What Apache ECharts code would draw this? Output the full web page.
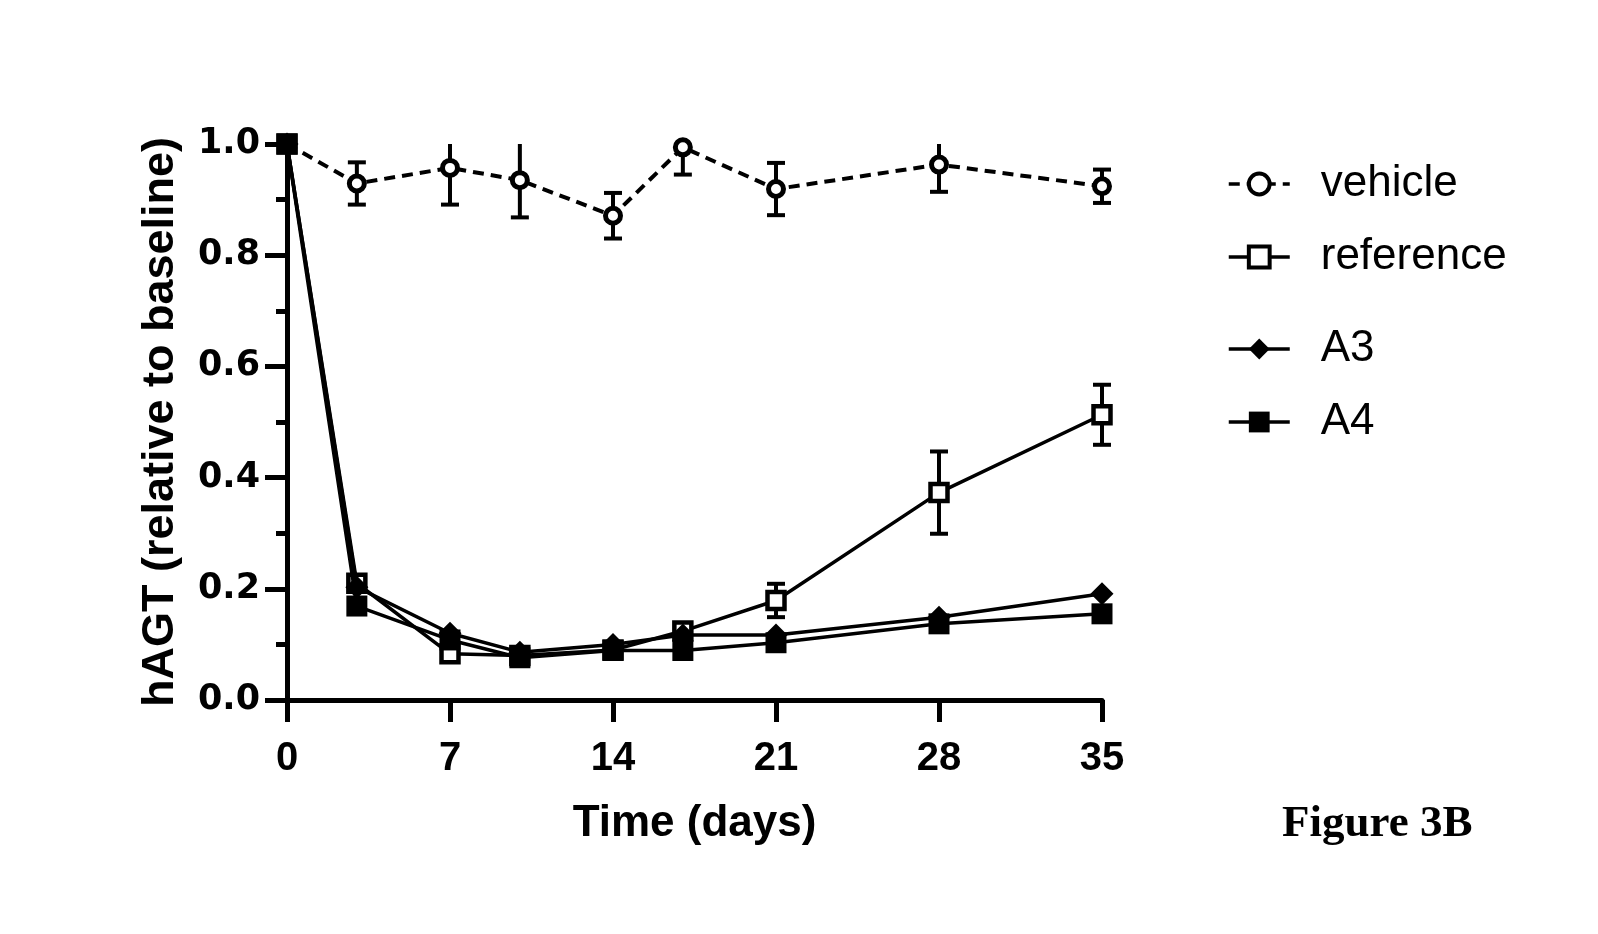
<!DOCTYPE html>
<html>
<head>
<meta charset="utf-8">
<title>Figure 3B</title>
<script src="https://cdn.jsdelivr.net/npm/echarts@6/dist/echarts.min.js"></script>
<style>
    html, body { margin: 0; padding: 0; background: #fff; }
    #chart { width: 1598px; height: 934px; }
</style>
</head>
<body>
<div id="chart"></div>
<script>
// 时间点 (days)
var days = [0, 3, 7, 10, 14, 17, 21, 28, 35];
// 各组均值
var vehicle = [1.0, 0.929, 0.957, 0.935, 0.871, 0.994, 0.919, 0.963, 0.924];
var reference = [1.0, 0.210, 0.083, 0.080, 0.090, 0.124, 0.179, 0.373, 0.513];
var a3 = [1.0, 0.203, 0.120, 0.086, 0.100, 0.117, 0.117, 0.149, 0.191];
var a4 = [1.0, 0.169, 0.108, 0.076, 0.089, 0.089, 0.103, 0.137, 0.155];
// 误差
var vehicleErr = [0, 0.038, 0.066, 0.067, 0.041, 0.049, 0.047, 0.049, 0.030];
var referenceErr = [0, 0.012, 0.006, 0.005, 0.005, 0.008, 0.030, 0.074, 0.054];
// 刻度
var xTicks = [0, 7, 14, 21, 28, 35];
var yMax = 1.0;

function pairs(vals) {
    return days.map(function (d, i) { return [d, vals[i]]; });
}
function errData(vals, errs) {
    return days.map(function (d, i) { return [d, vals[i], errs[i]]; });
}

// 误差线 (超过 y 轴最大值时裁掉上端)
function renderErr(params, api) {
    var x = api.value(0), y = api.value(1), e = api.value(2);
    if (!e) return null;
    var hiVal = y + e, clipped = hiVal > yMax;
    if (clipped) hiVal = yMax;
    var lo = api.coord([x, y - e]);
    var hi = api.coord([x, hiVal]);
    var cap = 9;
    var style = { stroke: '#000', lineWidth: 4 };
    var kids = [
        { type: 'line', shape: { x1: lo[0], y1: lo[1], x2: hi[0], y2: hi[1] }, style: style },
        { type: 'line', shape: { x1: lo[0] - cap, y1: lo[1], x2: lo[0] + cap, y2: lo[1] }, style: style }
    ];
    if (!clipped) {
        kids.push({ type: 'line', shape: { x1: hi[0] - cap, y1: hi[1], x2: hi[0] + cap, y2: hi[1] }, style: style });
    }
    return { type: 'group', children: kids };
}

var myChart = echarts.init(document.getElementById('chart'));

var legendText = {
    fontFamily: 'Liberation Sans', fontSize: 44, color: '#000', lineHeight: 44,
    padding: [0, 0, 0, 26]
};

var option = {
    backgroundColor: '#fff',
    animation: false,
    title: {
        text: 'Figure 3B',
        left: 1277,
        top: 797,
        textStyle: { fontFamily: 'Liberation Serif', fontWeight: 'bold', fontSize: 45, color: '#000' }
    },
    legend: [{
        data: ['vehicle', 'reference'],
        orient: 'vertical',
        left: 1222,
        top: 157,
        itemWidth: 61,
        itemHeight: 26,
        itemGap: 29,
        lineStyle: { width: 3.5 },
        itemStyle: { borderWidth: 4 },
        textStyle: legendText
    }, {
        data: ['A3', 'A4'],
        orient: 'vertical',
        left: 1222,
        top: 322,
        itemWidth: 61,
        itemHeight: 26,
        itemGap: 29,
        lineStyle: { width: 3.5 },
        textStyle: legendText
    }],
    grid: { left: 287, right: 496, top: 144, bottom: 234 },
    xAxis: {
        type: 'value',
        min: 0,
        max: 35,
        interval: 7,
        name: 'Time (days)',
        nameLocation: 'middle',
        nameGap: 102,
        nameTextStyle: { fontFamily: 'Liberation Sans', fontWeight: 'bold', fontSize: 44, color: '#000' },
        axisLine: { lineStyle: { color: '#000', width: 5 } },
        axisTick: { inside: false, length: 22, lineStyle: { color: '#000', width: 5 } },
        axisLabel: {
            margin: 39,
            fontFamily: 'Liberation Sans', fontWeight: 'bold', fontSize: 40, color: '#000',
            customValues: xTicks
        },
        splitLine: { show: false }
    },
    yAxis: {
        type: 'value',
        min: 0,
        max: yMax,
        interval: 0.2,
        name: 'hAGT (relative to baseline)',
        nameLocation: 'middle',
        nameRotate: 90,
        nameGap: 104,
        nameTextStyle: { fontFamily: 'Liberation Sans', fontWeight: 'bold', fontSize: 45, color: '#000' },
        axisLine: { show: true, lineStyle: { color: '#000', width: 5 } },
        axisTick: { show: true, length: 22, lineStyle: { color: '#000', width: 5 } },
        minorTick: { show: true, splitNumber: 2, length: 11, lineStyle: { color: '#000', width: 5 } },
        axisLabel: {
            margin: 27,
            fontFamily: 'DejaVu Sans', fontWeight: 'bold', fontSize: 35, color: '#000',
            formatter: function (v) { return v.toFixed(1); }
        },
        splitLine: { show: false }
    },
    series: [{
        name: 'vehicle-err',
        type: 'custom',
        renderItem: renderErr,
        encode: { x: 0, y: 1 },
        data: errData(vehicle, vehicleErr),
        z: 1
    }, {
        name: 'reference-err',
        type: 'custom',
        renderItem: renderErr,
        encode: { x: 0, y: 1 },
        data: errData(reference, referenceErr),
        z: 1
    }, {
        name: 'vehicle',
        type: 'line',
        data: pairs(vehicle),
        symbol: 'circle',
        symbolSize: 15,
        lineStyle: { color: '#000', width: 4, type: [11, 7] },
        itemStyle: { color: '#fff', borderColor: '#000', borderWidth: 5 },
        z: 2
    }, {
        name: 'reference',
        type: 'line',
        data: pairs(reference),
        symbol: 'rect',
        symbolSize: 17,
        lineStyle: { color: '#000', width: 3.5 },
        itemStyle: { color: '#fff', borderColor: '#000', borderWidth: 4.5 },
        z: 3
    }, {
        name: 'A3',
        type: 'line',
        data: pairs(a3),
        symbol: 'diamond',
        symbolSize: 23,
        lineStyle: { color: '#000', width: 3.5 },
        itemStyle: { color: '#000' },
        z: 4
    }, {
        name: 'A4',
        type: 'line',
        data: pairs(a4),
        symbol: 'rect',
        symbolSize: 21,
        lineStyle: { color: '#000', width: 3.5 },
        itemStyle: { color: '#000' },
        z: 5
    }]
};

myChart.setOption(option);
window.addEventListener('resize', function () {
    myChart.resize();
});
</script>
</body>
</html>
